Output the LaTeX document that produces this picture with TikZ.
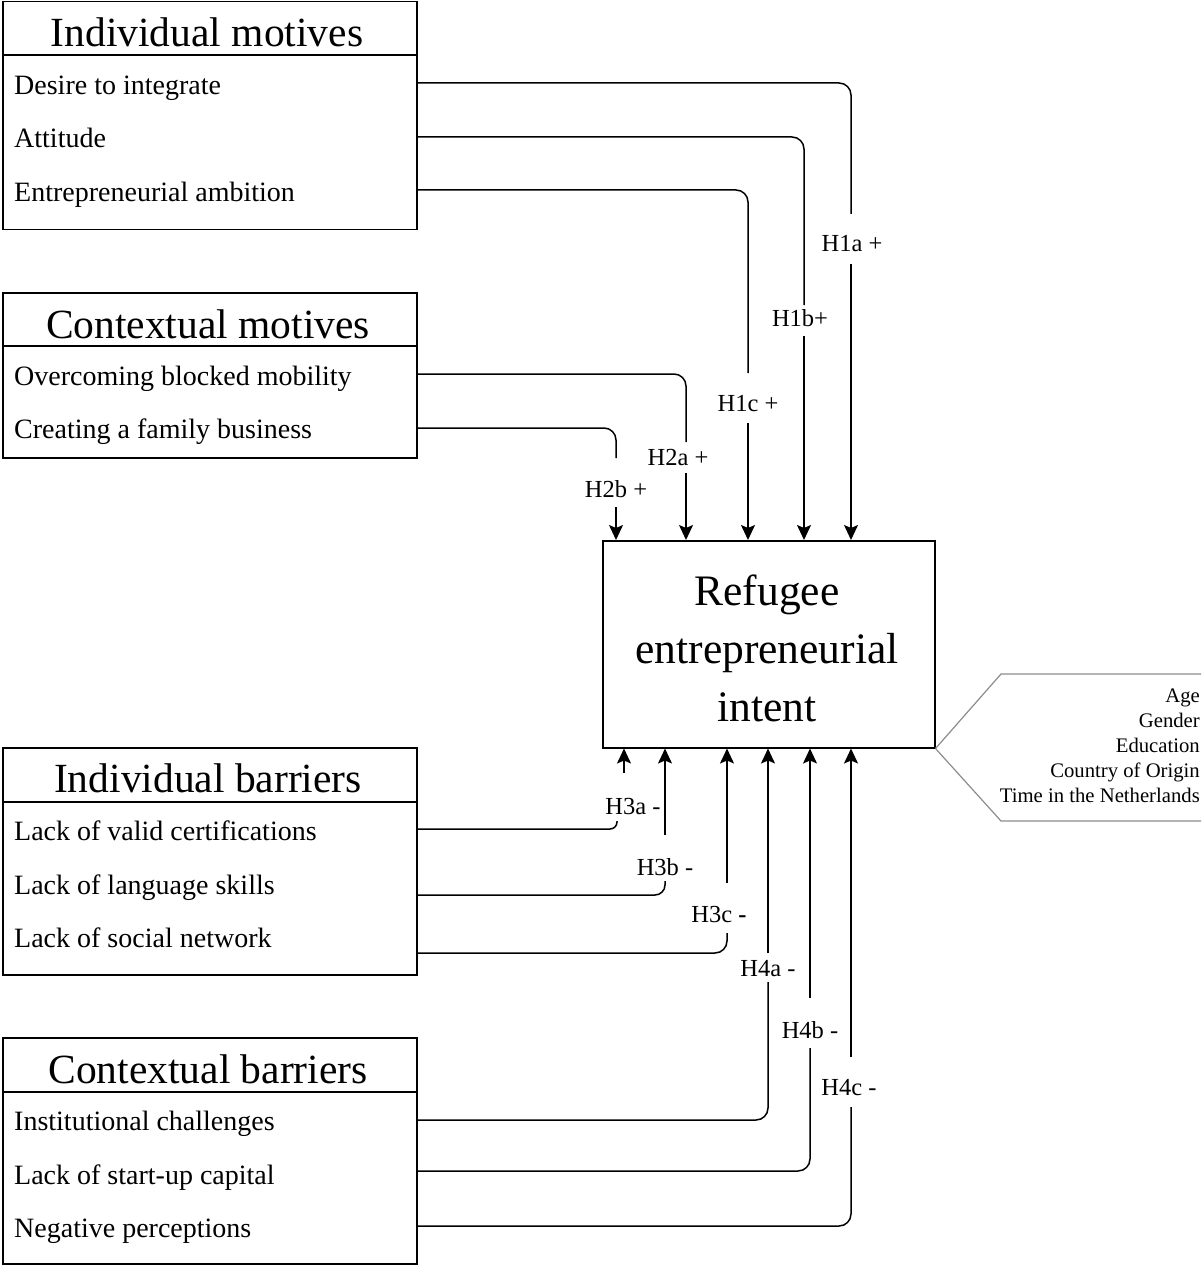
\documentclass[tikz,border=0pt]{standalone}
\usepackage{fontspec}
\setmainfont{Liberation Serif}
\usetikzlibrary{arrows.meta}
\begin{document}
\begin{tikzpicture}[x=1pt,y=-1pt,
  grpbox/.style={draw, line width=1.5pt, anchor=north west, inner sep=0pt, minimum width=414pt},
  hdr/.style={font=\fontsize{41.5}{46}\selectfont, inner sep=0pt, anchor=base},
  itm/.style={font=\fontsize{28}{30}\selectfont, anchor=base west, inner sep=0pt},
  lab/.style={font=\fontsize{24.5}{28}\selectfont, inner sep=0pt},
  conn/.style={line width=1.5pt, rounded corners=12pt},
  arr/.style={line width=1.5pt, -{Stealth[length=15pt,width=14pt,inset=3pt]}},
  ctl/.style={line width=1.2pt, draw=black!45}
]
\useasboundingbox (0,0) rectangle (1201,1265);

% ---- group boxes ----
\node[grpbox, minimum height=228pt] (bIM) at (2,1) {};
\node[grpbox, minimum height=165pt] (bCM) at (2,292) {};
\node[grpbox, minimum height=227pt] (bIB) at (2,747) {};
\node[grpbox, minimum height=226pt] (bCB) at (2,1037) {};
\draw[line width=1.5pt] (bIM.west |- 0,55) -- (bIM.east |- 0,55);
\draw[line width=1.5pt] (bCM.west |- 0,346) -- (bCM.east |- 0,346);
\draw[line width=1.5pt] (bIB.west |- 0,802) -- (bIB.east |- 0,802);
\draw[line width=1.5pt] (bCB.west |- 0,1092) -- (bCB.east |- 0,1092);

\node[hdr] (tIM) at (207,47) {Individual motives};
\node[hdr] (tCM) at (208,338) {Contextual motives};
\node[hdr] (tIB) at (208,792) {Individual barriers};
\node[hdr] (tCB) at (208,1083) {Contextual barriers};

\node[itm] (i1) at (14,95) {Desire to integrate};
\node[itm] (i2) at (14,148) {Attitude};
\node[itm] (i3) at (14,202) {Entrepreneurial ambition};
\node[itm] (i4) at (14,385) {Overcoming blocked mobility};
\node[itm] (i5) at (14,438) {Creating a family business};
\node[itm] (i6) at (14,840) {Lack of valid certifications};
\node[itm] (i7) at (14,894) {Lack of language skills};
\node[itm] (i8) at (14,947) {Lack of social network};
\node[itm] (i9) at (14,1130) {Institutional challenges};
\node[itm] (i10) at (14,1184) {Lack of start-up capital};
\node[itm] (i11) at (14,1237) {Negative perceptions};

% ---- main box ----
\node[draw, line width=1.5pt, anchor=north west, minimum width=332pt, minimum height=207pt, inner sep=0pt] (main) at (602,540) {};
\node[align=center, font=\fontsize{43.5}{58}\selectfont, inner sep=0pt] (mt) at (767,648) {Refugee\\entrepreneurial\\intent};

% ---- controls ----
\draw[ctl] (main.south east) -- (1001,674) -- (1201,674);
\draw[ctl] (main.south east) -- (1001,821) -- (1201,821);
\node[align=right, anchor=east, font=\fontsize{20.7}{25}\selectfont, inner sep=0pt] (ctrl) at (1200,746)
  {Age\\Gender\\Education\\Country of Origin\\Time in the Netherlands};

% ---- hypothesis labels ----
\node[lab] (h1a) at (852,244) {H1a +};
\node[lab] (h1b) at (800,318) {H1b+};
\node[lab] (h1c) at (748,404) {H1c +};
\node[lab] (h2a) at (678,458) {H2a +};
\node[lab] (h2b) at (616,489) {H2b +};
\node[lab] (h3a) at (633,806) {H3a -};
\node[lab] (h3b) at (665,867) {H3b -};
\node[lab] (h3c) at (719,914) {H3c {\bfseries -}};
\node[lab] (h4a) at (768,969) {H4a -};
\node[lab] (h4b) at (810,1030) {H4b -};
\node[lab] (h4c) at (849,1088) {H4c -};

% ---- connector coordinates ----
\coordinate (e1a) at (851,214); \coordinate (s1a) at (851,264);
\coordinate (e1b) at (804,305); \coordinate (s1b) at (804,336);
\coordinate (e1c) at (748,373); \coordinate (s1c) at (748,423);
\coordinate (e2a) at (686,442); \coordinate (s2a) at (686,473);
\coordinate (e2b) at (616,458); \coordinate (s2b) at (616,507);

\coordinate (e3a) at (617,821); \coordinate (s3a) at (624,773);
\coordinate (e3b) at (665,881); \coordinate (s3b) at (665,835);
\coordinate (e3c) at (727,933); \coordinate (s3c) at (727,883);
\coordinate (e4a) at (768,982); \coordinate (s4a) at (768,953);
\coordinate (e4b) at (810,1048); \coordinate (s4b) at (810,998);
\coordinate (e4c) at (851,1107); \coordinate (s4c) at (851,1057);

% ---- top connectors ----
\draw[conn] (bIM.east |- 0,83) -| (e1a);
\draw[arr] (s1a) -- (main.north -| s1a);
\draw[conn] (bIM.east |- 0,137) -| (e1b);
\draw[arr] (s1b) -- (main.north -| s1b);
\draw[conn] (bIM.east |- 0,190) -| (e1c);
\draw[arr] (s1c) -- (main.north -| s1c);
\draw[conn] (bCM.east |- 0,374) -| (e2a);
\draw[arr] (s2a) -- (main.north -| s2a);
\draw[conn] (bCM.east |- 0,428) -| (e2b);
\draw[arr] (s2b) -- (main.north -| s2b);

% ---- bottom connectors ----
\draw[conn, rounded corners=7pt] (bIB.east |- 0,829) -| (e3a);
\draw[arr] (s3a) -- (main.south -| s3a);
\draw[conn, rounded corners=10pt] (bIB.east |- 0,895) -| (e3b);
\draw[arr] (s3b) -- (main.south -| s3b);
\draw[conn] (bIB.east |- 0,953) -| (e3c);
\draw[arr] (s3c) -- (main.south -| s3c);
\draw[conn] (bCB.east |- 0,1120) -| (e4a);
\draw[arr] (s4a) -- (main.south -| s4a);
\draw[conn] (bCB.east |- 0,1171) -| (e4b);
\draw[arr] (s4b) -- (main.south -| s4b);
\draw[conn] (bCB.east |- 0,1226) -| (e4c);
\draw[arr] (s4c) -- (main.south -| s4c);
\end{tikzpicture}
\end{document}
